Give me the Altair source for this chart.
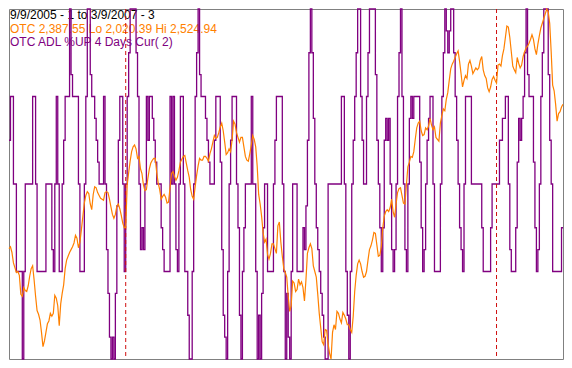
import altair as alt
import pandas as pd

# OTC ADL %UP 4 Days (percent, one value per trading day, 9/9/2005 .. 3/9/2007)
pct_up = [
    62.5, 75, 75, 50, 50, 25, 25, 25, 25, 0,
    25, 50, 50, 50, 50, 50, 75, 75, 50, 25,
    25, 25, 25, 25, 25, 50, 50, 50, 50, 31.25,
    25, 50, 75, 50, 25, 25, 50, 62.5, 75, 75,
    75, 100, 81.25, 75, 75, 75, 75, 50, 25, 25,
    25, 50, 75, 100, 100, 81.25, 75, 75, 68.75, 62.5,
    56.25, 50, 50, 50, 75, 50, 31.25, 18.75, 6.25, 0,
    6.25, 0, 18.75, 43.75, 62.5, 75, 75, 50, 25, 50,
    75, 87.5, 100, 100, 100, 100, 87.5, 75, 50, 31.25,
    37.5, 31.25, 50, 75, 62.5, 75, 75, 68.75, 62.5, 56.25,
    50, 50, 50, 37.5, 31.25, 25, 25, 25, 25, 75,
    50, 75, 50, 31.25, 25, 50, 75, 75, 50, 25,
    25, 12.5, 0, 0, 25, 50, 75, 87.5, 100, 81.25,
    75, 75, 75, 68.75, 62.5, 56.25, 50, 50, 50, 62.5,
    75, 75, 75, 56.25, 31.25, 12.5, 6.25, 0, 25, 50,
    62.5, 75, 75, 75, 50, 37.5, 12.5, 0, 25, 37.5,
    50, 50, 50, 50, 75, 50, 50, 25, 0, 12.5,
    0, 18.75, 37.5, 50, 50, 25, 25, 25, 25, 50,
    62.5, 75, 75, 75, 75, 50, 25, 0, 18.75, 6.25,
    0, 25, 50, 50, 50, 25, 25, 25, 25, 37.5,
    31.25, 43.75, 62.5, 87.5, 100, 87.5, 68.75, 50, 37.5, 31.25,
    25, 18.75, 12.5, 6.25, 0, 0, 50, 50, 50, 50,
    50, 50, 50, 50, 50, 75, 75, 50, 25, 12.5,
    0, 25, 50, 62.5, 75, 87.5, 100, 100, 75, 62.5,
    50, 50, 75, 87.5, 100, 100, 100, 100, 81.25, 62.5,
    50, 37.5, 25, 37.5, 62.5, 68.75, 62.5, 68.75, 50, 31.25,
    25, 31.25, 50, 75, 87.5, 100, 75, 50, 31.25, 25,
    50, 68.75, 75, 68.75, 75, 75, 75, 75, 56.25, 37.5,
    25, 31.25, 50, 62.5, 68.75, 75, 75, 50, 25, 25,
    25, 25, 50, 75, 87.5, 100, 93.75, 87.5, 93.75, 100,
    100, 87.5, 75, 62.5, 50, 37.5, 31.25, 25, 50, 75,
    75, 75, 75, 50, 50, 50, 50, 50, 50, 50,
    37.5, 25, 25, 25, 25, 25, 37.5, 50, 50, 50,
    50, 50, 62.5, 62.5, 68.75, 68.75, 75, 75, 50, 31.25,
    25, 25, 25, 37.5, 56.25, 68.75, 62.5, 68.75, 75, 87.5,
    100, 81.25, 75, 75, 75, 56.25, 37.5, 25, 31.25, 50,
    75, 87.5, 100, 100, 100, 81.25, 62.5, 50, 25, 25,
    25, 25, 25, 25, 37.5, 37.5,
]

# OTC close, one value per trading day
otc = [
    2179.43, 2182.17, 2173.95, 2158.87, 2152.01, 2145.16, 2146.53, 2141.04, 2113.62, 2110.88,
    2123.22, 2119.11, 2117.74, 2125.96, 2139.67, 2150.64, 2154.75, 2134.19, 2110.88, 2090.31,
    2084.83, 2076.60, 2058.78, 2038.21, 2046.44, 2058.78, 2071.12, 2075.23, 2086.20, 2082.09,
    2086.20, 2112.25, 2108.14, 2097.17, 2068.38, 2099.91, 2114.99, 2127.33, 2150.64, 2162.98,
    2168.46, 2173.95, 2178.06, 2182.17, 2187.66, 2198.63, 2194.51, 2180.80, 2189.03, 2206.85,
    2226.05, 2245.24, 2256.21, 2261.70, 2258.95, 2243.87, 2235.65, 2257.58, 2268.55, 2267.18,
    2260.33, 2256.21, 2252.10, 2250.73, 2249.36, 2260.33, 2261.70, 2260.33, 2250.73, 2239.76,
    2228.79, 2223.31, 2228.79, 2241.13, 2243.87, 2237.02, 2227.42, 2216.45, 2209.60, 2209.60,
    2271.29, 2289.12, 2305.57, 2319.28, 2326.14, 2328.88, 2323.39, 2309.68, 2312.43, 2294.60,
    2287.75, 2271.29, 2263.07, 2264.44, 2280.89, 2294.60, 2302.83, 2306.94, 2309.68, 2309.68,
    2289.12, 2274.04, 2264.44, 2250.73, 2254.84, 2257.58, 2253.47, 2245.24, 2246.61, 2267.18,
    2287.75, 2290.49, 2283.63, 2278.15, 2282.26, 2291.86, 2304.20, 2308.31, 2312.43, 2313.80,
    2302.83, 2291.86, 2282.26, 2264.44, 2254.84, 2250.73, 2268.55, 2285.00, 2298.72, 2309.68,
    2306.94, 2306.94, 2312.43, 2312.43, 2309.68, 2305.57, 2316.54, 2323.39, 2332.99, 2342.59,
    2338.48, 2339.85, 2346.70, 2354.93, 2360.41, 2349.44, 2332.99, 2315.17, 2317.91, 2323.39,
    2319.28, 2335.73, 2363.15, 2359.04, 2346.70, 2339.85, 2332.99, 2339.85, 2339.85, 2326.14,
    2312.43, 2306.94, 2305.57, 2316.54, 2328.88, 2342.59, 2337.10, 2326.14, 2298.72, 2257.58,
    2243.87, 2226.05, 2202.74, 2189.03, 2193.14, 2171.21, 2164.35, 2172.58, 2186.29, 2186.29,
    2179.43, 2172.58, 2212.34, 2217.82, 2189.03, 2168.46, 2150.64, 2145.16, 2138.30, 2110.88,
    2088.94, 2097.17, 2132.82, 2130.07, 2117.74, 2120.48, 2135.56, 2127.33, 2131.45, 2123.22,
    2104.02, 2134.19, 2172.58, 2180.80, 2186.29, 2179.43, 2154.75, 2146.53, 2138.30, 2113.62,
    2086.20, 2065.63, 2045.07, 2040.96, 2062.89, 2061.52, 2042.33, 2028.62, 2020.39, 2058.78,
    2069.75, 2062.89, 2088.94, 2086.20, 2077.97, 2072.49, 2087.57, 2083.46, 2077.97, 2069.75,
    2069.75, 2062.89, 2058.78, 2082.09, 2117.74, 2141.04, 2157.50, 2162.98, 2157.50, 2146.53,
    2138.30, 2139.67, 2146.53, 2162.98, 2178.06, 2183.55, 2191.77, 2202.74, 2201.37, 2184.92,
    2168.46, 2169.84, 2182.17, 2209.60, 2226.05, 2232.90, 2235.65, 2232.90, 2238.39, 2250.73,
    2232.90, 2224.68, 2243.87, 2260.33, 2265.81, 2267.18, 2256.21, 2245.24, 2243.87, 2271.29,
    2297.34, 2304.20, 2312.43, 2311.05, 2319.28, 2337.10, 2353.56, 2360.41, 2363.15, 2349.44,
    2342.59, 2343.96, 2353.56, 2350.82, 2356.30, 2367.27, 2357.67, 2350.82, 2354.93, 2339.85,
    2337.10, 2334.36, 2360.41, 2371.38, 2380.98, 2378.24, 2394.69, 2404.29, 2422.11, 2438.56,
    2445.42, 2449.53, 2455.02, 2460.50, 2464.61, 2449.53, 2431.71, 2412.51, 2422.11, 2428.97,
    2424.85, 2445.42, 2450.90, 2442.68, 2431.71, 2435.82, 2439.93, 2437.19, 2439.93, 2450.90,
    2456.39, 2437.19, 2428.97, 2424.85, 2411.14, 2405.66, 2412.51, 2423.48, 2427.59, 2422.11,
    2418.00, 2444.05, 2445.42, 2442.68, 2457.76, 2467.36, 2483.81, 2500.26, 2498.89, 2483.81,
    2463.24, 2442.68, 2437.19, 2433.08, 2455.02, 2446.79, 2439.93, 2444.05, 2456.39, 2463.24,
    2468.73, 2471.47, 2475.58, 2481.07, 2487.92, 2481.07, 2467.36, 2459.13, 2474.21, 2486.55,
    2497.52, 2504.37, 2511.23, 2518.08, 2524.94, 2520.83, 2504.37, 2463.24, 2415.26, 2407.03,
    2387.83, 2363.15, 2374.12, 2376.87, 2383.72, 2387.55,
]

otc_lo = 2020.39
otc_hi = 2524.94
year_start_days = [79, 330]  # first trading days of 2006 and 2007

header_lines = [
    "9/9/2005 - 1 to 3/9/2007 - 3",
    "OTC 2,387.55 Lo 2,020.39 Hi 2,524.94",
    "OTC ADL %UP 4 Days Cur( 2)",
]
header_colors = ["#000000", "#FF8000", "#800080"]

n = min(len(pct_up), len(otc))
df = pd.DataFrame({"day": list(range(n)), "pct": pct_up[:n], "otc": otc[:n]})

W, H = 554, 350
xenc = alt.X("day:Q", scale=alt.Scale(domain=[0, n - 1], nice=False, zero=False), axis=None)

text_layers = []
for i, (t, c) in enumerate(zip(header_lines, header_colors)):
    text_layers.append(
        alt.Chart(pd.DataFrame({"t": [t]}))
        .mark_text(align="left", baseline="alphabetic", fontSize=12,
                   font="Liberation Sans", color=c)
        .encode(text="t:N", x=alt.value(1), y=alt.value(10 + 13.5 * i))
    )

purple = alt.Chart(df).mark_line(
    color="#800080", strokeWidth=1.3, interpolate="step-after"
).encode(
    x=xenc,
    y=alt.Y("pct:Q", scale=alt.Scale(domain=[0, 100], nice=False), axis=None),
)

rules = alt.Chart(pd.DataFrame({"day": year_start_days})).mark_rule(
    color="#D01010", strokeDash=[4, 3], strokeWidth=1
).encode(x=xenc)

orange = alt.Chart(df).mark_line(color="#FF8000", strokeWidth=1.2).encode(
    x=xenc,
    y=alt.Y("otc:Q", scale=alt.Scale(domain=[otc_lo, otc_hi], nice=False, zero=False), axis=None),
)

chart = (
    alt.layer(*text_layers, purple, rules, orange)
    .resolve_scale(y="independent")
    .properties(width=W, height=H, padding=1, autosize=alt.AutoSizeParams(type="none"),
                background="#FFFFFF")
    .configure_view(stroke="#808080", strokeWidth=1)
)

chart.save("out.html", embed_options={"renderer": "svg", "actions": False})
